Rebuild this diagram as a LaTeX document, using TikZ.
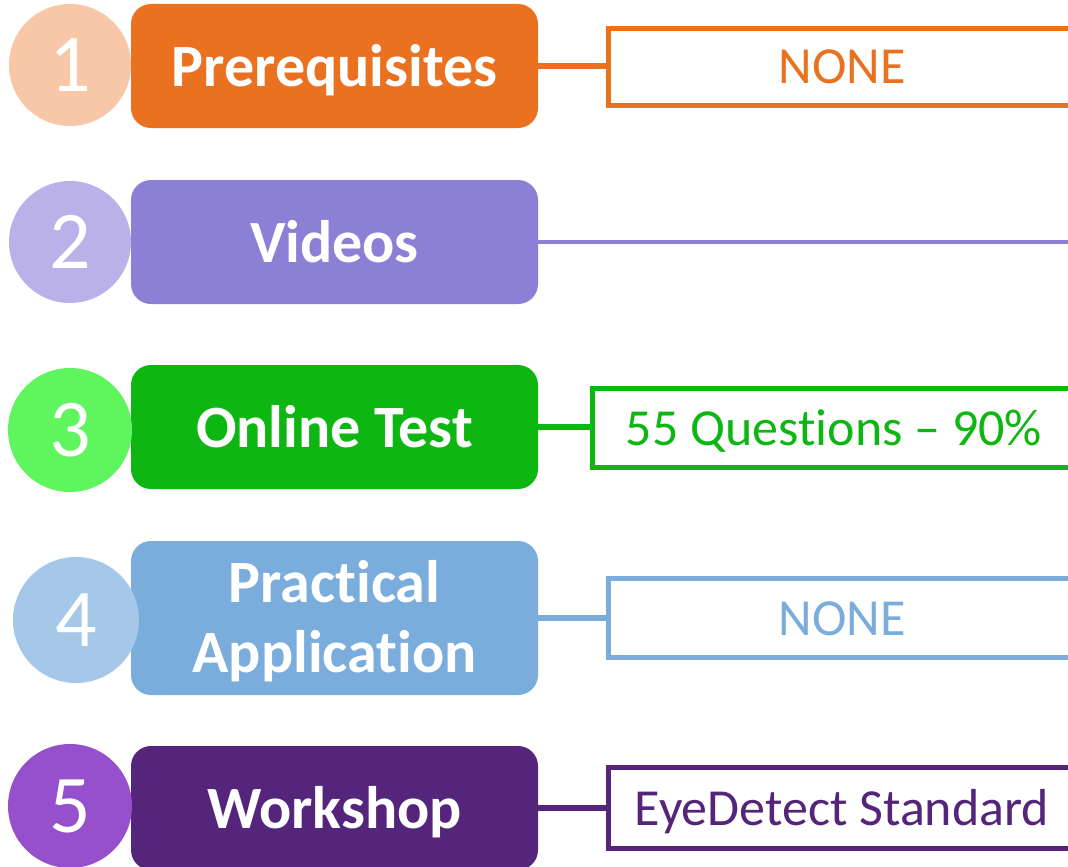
\documentclass[tikz,border=0pt]{standalone}
\usepackage{fontspec}
\setmainfont{Carlito}[Ligatures=NoCommon]
\definecolor{oA}{HTML}{E97120}\definecolor{oB}{HTML}{F7C7A7}
\definecolor{pA}{HTML}{8B7FD6}\definecolor{pB}{HTML}{B9B1E8}
\definecolor{gA}{HTML}{0EB612}\definecolor{gB}{HTML}{5EF55E}
\definecolor{bA}{HTML}{7AADDC}\definecolor{bB}{HTML}{A5C8E8}
\definecolor{vA}{HTML}{54257A}\definecolor{vB}{HTML}{9650CB}
\tikzset{
  numc/.style={circle, fill=#1, inner sep=0pt, minimum size=122pt, text=white, font=\fontsize{82}{82}\selectfont},
  stepbox/.style={rectangle, rounded corners=20pt, fill=#1, minimum width=407pt, minimum height=124pt, inner sep=0pt, text=white, align=center, font=\bfseries\fontsize{60}{70}\selectfont},
  oneline/.style={text height=52pt, text depth=12pt},
  infobox/.style={rectangle, draw=#1, line width=5pt, fill=white, minimum width=468pt, minimum height=77pt, inner sep=0pt, text=#1, font=\fontsize{52}{52}\selectfont, text height=42pt, text depth=8pt},
  conn/.style={draw=#1, line width=5.5pt}
}
\begin{document}
\begin{tikzpicture}[x=1pt,y=-1pt]
\useasboundingbox (0,0) rectangle (1068,867);
\fill[white] (0,0) rectangle (1068,867);
% row 1
\node[stepbox=oA, oneline] (b1) at (334.5,66) {Prerequisites};
\node[numc=oB] (c1) at (70,65) {1};
\node[infobox=oA] (r1) at (842,67) {NONE};
\draw[conn=oA] (b1.east) -- (b1.east -| r1.west);
% row 2
\node[stepbox=pA, oneline] (b2) at (334.5,242) {Videos};
\node[numc=pB] (c2) at (70,242) {2};
\coordinate (e2) at (1068,242);
\draw[conn=pA, line width=4pt] (b2.east) -- (e2);
% row 3
\node[stepbox=gA, oneline] (b3) at (334.5,427) {Online Test};
\node[numc=gB, minimum size=124pt] (c3) at (70,430) {3};
\node[infobox=gA, minimum width=484pt, minimum height=79pt] (r3) at (834,428) {55 Questions – 90\%};
\draw[conn=gA] (b3.east) -- (b3.east -| r3.west);
% row 4
\node[stepbox=bA, minimum height=154pt, text depth=4pt] (b4) at (334.5,618) {Practical\\Application};
\node[numc=bB, minimum size=126pt] (c4) at (76,620) {4};
\node[infobox=bA, minimum height=79pt] (r4) at (842,618) {NONE};
\draw[conn=bA] (b4.east) -- (b4.east -| r4.west);
% row 5
\node[stepbox=vA, oneline] (b5) at (334.5,808) {Workshop};
\node[numc=vB, minimum size=124pt] (c5) at (70,806) {5};
\node[infobox=vA, minimum height=81pt] (r5) at (842,808) {EyeDetect Standard};
\draw[conn=vA] (b5.east) -- (b5.east -| r5.west);
\end{tikzpicture}
\end{document}
